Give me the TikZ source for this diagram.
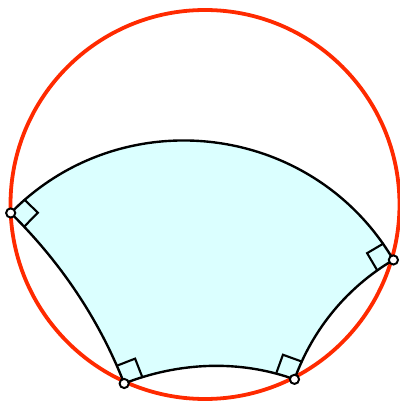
\documentclass[tikz,border=0pt]{standalone}
\usetikzlibrary{calc}
\definecolor{Rim}{HTML}{FF2A00}
\definecolor{SoftCyan}{HTML}{DBFFFF}
\tikzset{
 rim/.style={draw=Rim, line width=2.7pt},
 side/.style={draw=black, line width=1.7pt, line join=round},
 region/.style={fill=SoftCyan},
 anglemark/.style={draw=black, line width=1.5pt},
 vertex/.style={circle, draw=black, fill=white, line width=1.4pt, minimum size=0.23cm, inner sep=0pt}
}
\begin{document}
\begin{tikzpicture}
\useasboundingbox (0,0) rectangle (9.975,10.075);
\def\R{4.8625}
\def\s{0.48}
\coordinate (O) at (5.125,4.9625);
\coordinate (A) at ($(O)+(182.5:\R)$);
\coordinate (B) at ($(O)+(-16.4:4.91)$);
\coordinate (C) at ($(O)+(-62.9:4.91)$);
\coordinate (D) at ($(O)+(245.7:4.91)$);
% curved quadrilateral
\fill[region] (A) to[out=45.5,in=120.5,looseness=1.06] (B)
 to[out=210.5,in=70.1,looseness=0.88] (C)
 to[out=160.1,in=21.3,looseness=0.88] (D)
 to[out=111.3,in=-44.5,looseness=0.86] (A) -- cycle;
\draw[rim] (O) circle[radius=\R];
\draw[side] (A) to[out=45.5,in=120.5,looseness=1.06] (B)
 to[out=210.5,in=70.1,looseness=0.88] (C)
 to[out=160.1,in=21.3,looseness=0.88] (D)
 to[out=111.3,in=-44.5,looseness=0.86] (A);
% right angles
\draw[anglemark] ($(A)+(45.5:\s)$) -- ($(A)+(45.5:\s)+(-44.5:\s)$) -- ($(A)+(-44.5:\s)$);
\draw[anglemark] ($(B)+(120.5:\s)$) -- ($(B)+(120.5:\s)+(210.5:\s)$) -- ($(B)+(210.5:\s)$);
\draw[anglemark] ($(C)+(70.1:\s)$) -- ($(C)+(70.1:\s)+(160.1:\s)$) -- ($(C)+(160.1:\s)$);
\draw[anglemark] ($(D)+(21.3:\s)$) -- ($(D)+(21.3:\s)+(111.3:\s)$) -- ($(D)+(111.3:\s)$);
% vertices
\node[vertex] (pA) at (A) {};
\node[vertex] (pB) at (B) {};
\node[vertex] (pC) at (C) {};
\node[vertex] (pD) at (D) {};
\end{tikzpicture}
\end{document}
